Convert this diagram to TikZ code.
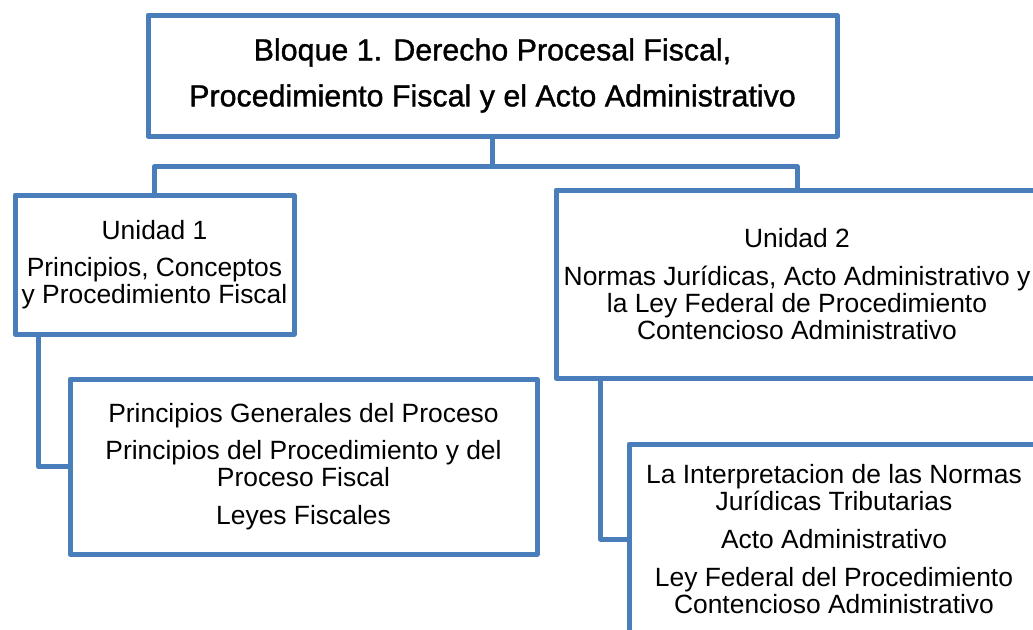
\documentclass[tikz,border=0pt]{standalone}
\usepackage{fontspec}
\setmainfont{Liberation Sans}
\newfontfamily\headfont[FakeBold=1.2]{Liberation Sans}
\usepackage{xcolor}
\definecolor{boxline}{HTML}{4A7EBB}
\usepackage{tikz}
\usetikzlibrary{positioning}
\tikzstyle{blockobject}=[rectangle, draw=boxline, line width=2.5pt, line join=round,
        text centered, align=center, text=black, inner sep=0pt,
        font=\fontsize{13.2}{13.4}\selectfont]
\tikzstyle{bloque}=[blockobject, minimum width=344.5pt, minimum height=60.5pt,
        font=\headfont\fontsize{15.2}{23}\selectfont]
\tikzstyle{unidad}=[blockobject]
\tikzstyle{temas}=[blockobject]
\tikzstyle{branchLine}=[draw=boxline, line width=2.5pt, line join=round]
\begin{document}
\begin{tikzpicture}[x=0.5pt,y=-0.5pt]

\useasboundingbox (0,0) rectangle (1033,629);
\fill[white] (0,0) rectangle (1033,629);
\clip (0,0) rectangle (1033,629);

\node (Bloque) [bloque] at (492.5,75.5)
  {Bloque 1. Derecho Procesal Fiscal,\\Procedimiento Fiscal y el Acto Administrativo};
\node (Unidad1) [unidad, minimum width=139.5pt, minimum height=69.5pt] at (154.5,264.5)
  {Unidad 1\\[5.5pt]Principios, Conceptos\\y Procedimiento Fiscal};
\node (Unidad2) [unidad, minimum width=241pt, minimum height=94pt] at (797,284)
  {Unidad 2\\[5.5pt]Normas Jurídicas, Acto Administrativo y\\la Ley Federal de Procedimiento\\Contencioso Administrativo};
\node (Temas1) [temas, minimum width=233.5pt, minimum height=87.5pt] at (303.5,466.5)
  {Principios Generales del Proceso\\[5.5pt]Principios del Procedimiento y del\\Proceso Fiscal\\[5.5pt]Leyes Fiscales};
\node (Temas2) [temas, minimum width=205pt, minimum height=95pt] at (834,539)
  {La Interpretacion de las Normas\\Jurídicas Tributarias\\[5.5pt]Acto Administrativo\\[5.5pt]Ley Federal del Procedimiento\\Contencioso Administrativo};

\draw[branchLine] (Bloque.south) -- ++(0,28) -| (Unidad1.north);
\draw[branchLine] (Bloque.south) -- ++(0,28) -| (Unidad2.north);
\draw[branchLine] ([xshift=13pt]Unidad1.south west) |- (Temas1.west);
\draw[branchLine] ([xshift=23.5pt]Unidad2.south west) |- (Temas2.west);

\end{tikzpicture}
\end{document}
